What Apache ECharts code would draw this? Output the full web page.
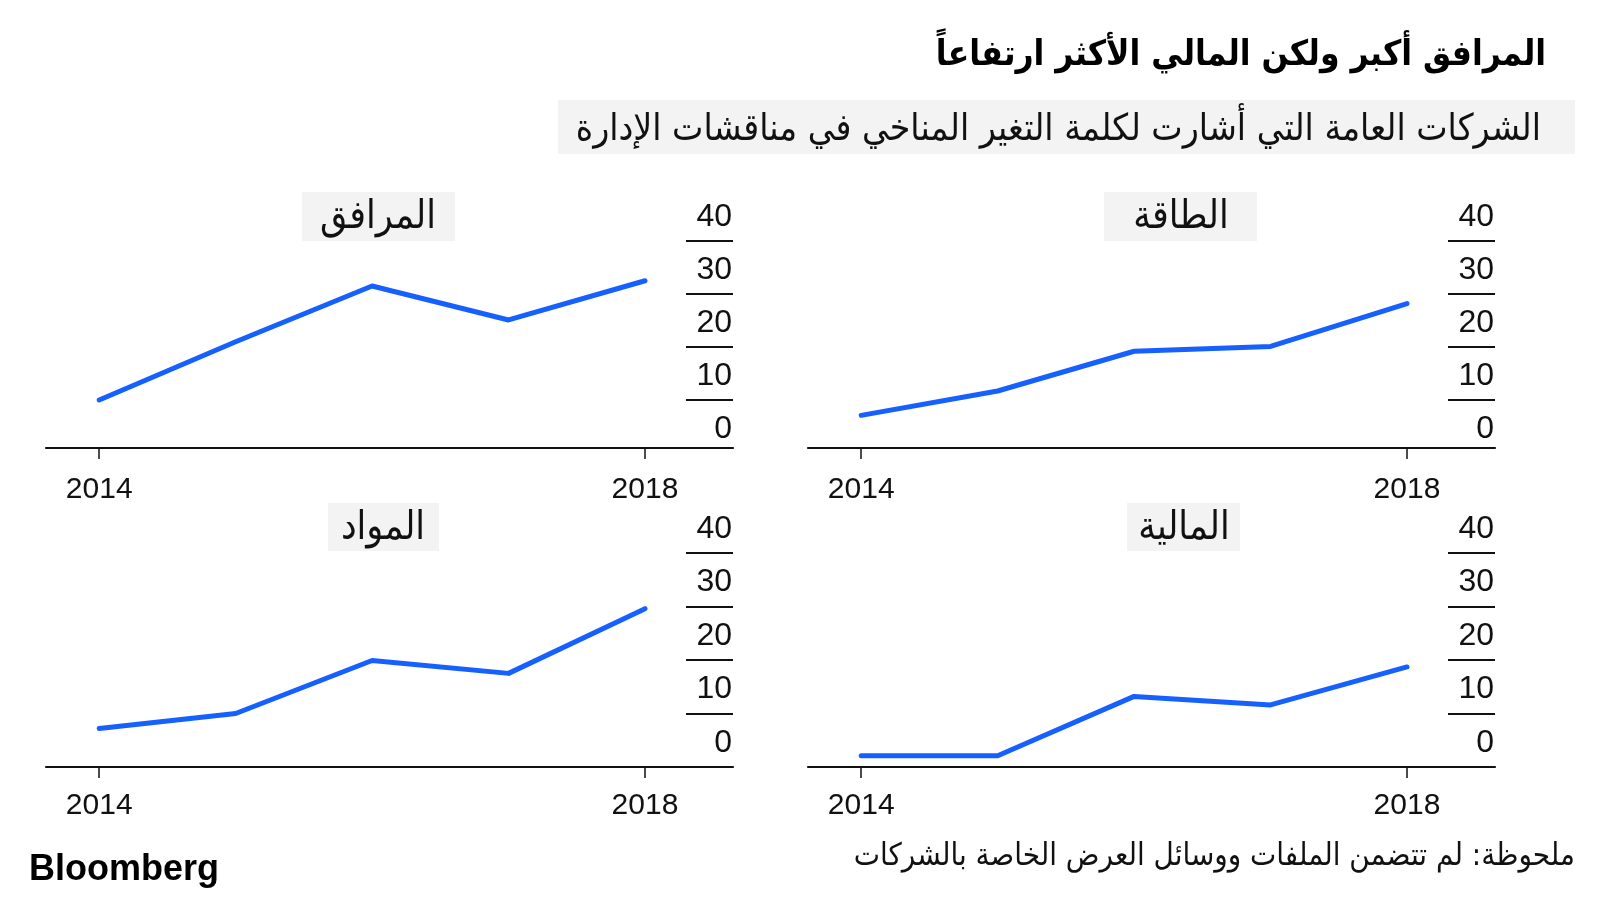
<!DOCTYPE html>
<html>
<head>
<meta charset="utf-8">
<script src="https://cdn.jsdelivr.net/npm/echarts@6/dist/echarts.min.js"></script>
<style>
html,body{margin:0;padding:0;background:#fff;}
#chart{width:1600px;height:900px;}
</style>
</head>
<body>
<div id="chart"></div>
<script>
// ---- data ----
const years = [2014, 2015, 2016, 2017, 2018];
const utilities  = [10, 21, 31.5, 25.1, 32.5];    // المرافق
const energy     = [7.1, 11.7, 19.2, 20.1, 28.2]; // الطاقة
const materials  = [7.2, 10, 19.9, 17.5, 29.6];   // المواد
const financials = [2.1, 2.1, 13.2, 11.6, 18.7];  // المالية
const yTicks = [0, 10, 20, 30, 40];
const yTickLines = [10, 20, 30, 40];
const xTickYears = [2014, 2018];
const panelTitles = ['المرافق', 'الطاقة', 'المواد', 'المالية'];
const mainTitle = 'المرافق أكبر ولكن المالي الأكثر ارتفاعاً';
const subTitle = 'الشركات العامة التي أشارت لكلمة التغير المناخي في مناقشات الإدارة';
const noteText = 'ملحوظة: لم تتضمن الملفات ووسائل العرض الخاصة بالشركات';
const sourceText = 'Bloomberg';

// ---- layout ----
const seriesList = [utilities, energy, materials, financials];
const grids = [
  {left: 46,  top: 241, width: 687, height: 212},
  {left: 808, top: 241, width: 687, height: 212},
  {left: 46,  top: 553, width: 687, height: 214},
  {left: 808, top: 553, width: 687, height: 214}
];
const xOffsets = [-5, -5, 0, 0];
const xLabelMargins = [27, 27, 24, 24];
const boxes = [
  {x: 302, y: 192, w: 153, h: 49, cx: 378, cy: 218},
  {x: 1104, y: 192, w: 153, h: 49, cx: 1181, cy: 218},
  {x: 328, y: 503, w: 111, h: 48, cx: 383, cy: 529},
  {x: 1127, y: 503, w: 113, h: 48, cx: 1184, cy: 529}
];
const arabicFont = "'DejaVu Sans Condensed', 'DejaVu Sans', 'Noto Sans', sans-serif";
const latinFont = "'Liberation Sans', Arial, sans-serif";
const lineColor = '#1560ff';

const chart = echarts.init(document.getElementById('chart'), null, {renderer: 'canvas'});

const xAxes = grids.map((g, i) => ({
  gridIndex: i,
  type: 'value',
  min: 2013.61,
  max: 2018.645,
  offset: xOffsets[i],
  axisLine: {show: true, onZero: false, lineStyle: {color: '#111', width: 2.2}},
  axisTick: {show: true, customValues: xTickYears, length: 11, lineStyle: {color: '#111', width: 1.5}},
  axisLabel: {show: true, customValues: xTickYears, margin: xLabelMargins[i], color: '#111',
    fontSize: 30, fontFamily: latinFont, formatter: v => String(Math.round(v))},
  splitLine: {show: false}
}));

const yAxes = grids.map((g, i) => ({
  gridIndex: i,
  type: 'value',
  position: 'right',
  min: yTicks[0],
  max: yTicks[yTicks.length - 1],
  interval: yTicks[1] - yTicks[0],
  axisLine: {show: false},
  axisTick: {show: true, inside: true, length: 47, customValues: yTickLines,
    lineStyle: {color: '#111', width: 2}},
  axisLabel: {show: true, inside: true, margin: 1, color: '#111', fontSize: 32,
    customValues: yTicks,
    fontFamily: latinFont, verticalAlign: 'bottom', lineHeight: 32, padding: [0, 0, 8, 0]},
  splitLine: {show: false}
}));

const series = seriesList.map((vals, i) => ({
  type: 'line',
  xAxisIndex: i,
  yAxisIndex: i,
  data: years.map((y, k) => [y, vals[k]]),
  showSymbol: false,
  symbol: 'none',
  lineStyle: {color: lineColor, width: 5, cap: 'round', join: 'round'},
  animation: false,
  z: 3
}));

const graphic = [];
boxes.forEach((b, i) => {
  graphic.push({type: 'rect', shape: {x: b.x, y: b.y, width: b.w, height: b.h},
    style: {fill: '#f3f3f3'}, z: 1});
  graphic.push({type: 'text', x: b.cx, y: b.cy, z: 2,
    style: {text: panelTitles[i], fill: '#111', font: '39px ' + arabicFont,
      textAlign: 'center', textVerticalAlign: 'middle'}});
});
// header
graphic.push({type: 'text', x: 1546, y: 56, style: {text: mainTitle, fill: '#000',
  font: 'bold 35px ' + arabicFont, textAlign: 'right', textVerticalAlign: 'middle'}});
graphic.push({type: 'rect', shape: {x: 558, y: 100, width: 1017, height: 54},
  style: {fill: '#f3f3f3'}, z: 1});
graphic.push({type: 'text', x: 1541, y: 130, z: 2, style: {text: subTitle, fill: '#111',
  font: '37px ' + arabicFont, textAlign: 'right', textVerticalAlign: 'middle'}});
// footer
graphic.push({type: 'text', x: 1575, y: 857, style: {text: noteText, fill: '#111',
  font: '31px ' + arabicFont, textAlign: 'right', textVerticalAlign: 'middle'}});
graphic.push({type: 'text', x: 29, y: 870, style: {text: sourceText, fill: '#000',
  font: 'bold 36px ' + latinFont, textAlign: 'left', textVerticalAlign: 'middle'}});

chart.setOption({
  backgroundColor: '#ffffff',
  animation: false,
  grid: grids.map(g => Object.assign({containLabel: false}, g)),
  xAxis: xAxes,
  yAxis: yAxes,
  series: series,
  graphic: graphic
});
</script>
</body>
</html>
